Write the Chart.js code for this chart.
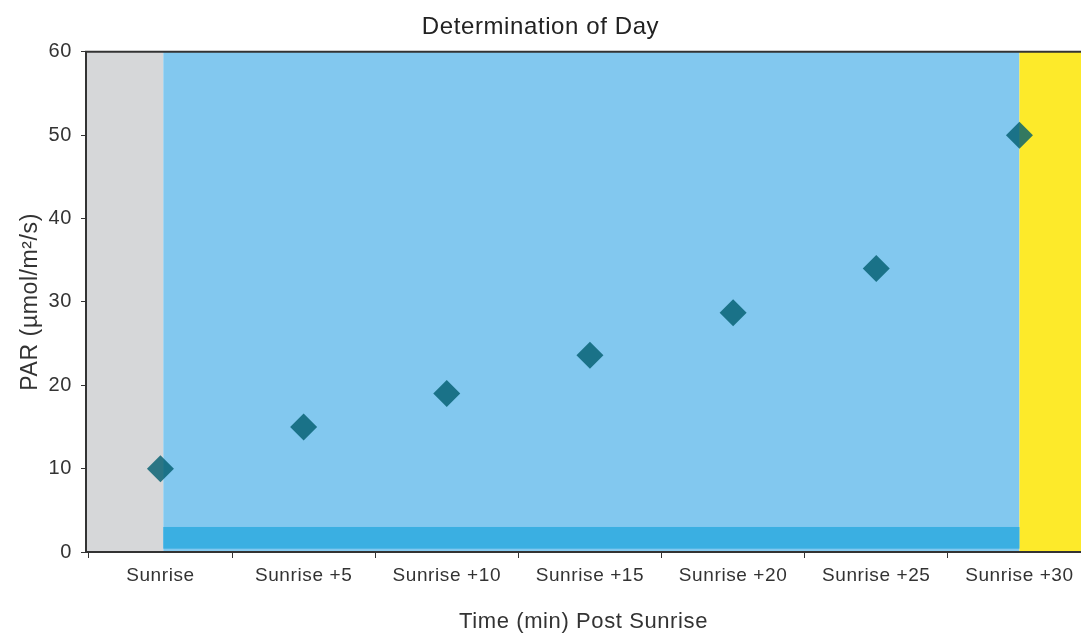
<!DOCTYPE html>
<html>
<head>
<meta charset="utf-8">
<script src="https://cdn.jsdelivr.net/npm/chart.js@4.4.1/dist/chart.umd.min.js"></script>
<style>
  html, body { margin: 0; background: #fff; }
  #wrap { width: 1081px; height: 636px; }
</style>
</head>
<body>
<div id="wrap"><canvas id="chart"></canvas></div>
<script>
/* Determination of Day: PAR readings after sunrise, drawn over
   night / twilight / day shading. */

const labels = ["Sunrise", "Sunrise +5", "Sunrise +10", "Sunrise +15", "Sunrise +20", "Sunrise +25", "Sunrise +30"];
const par = [10, 15, 19, 23.6, 28.7, 34, 50];
const yTicks = [0, 10, 20, 30, 40, 50, 60];
// shading edges in category units: night | twilight | day
const zoneEdges = [-0.52, 0.02, 6, 6.43];
// darker strip along the bottom of the twilight zone (PAR units)
const bandRange = [0.4, 3];

const ZONE_COLORS = ["#d6d7d9", "#82c8ef", "#fdea2a"];
const BAND = "#3aafe2";
const INK = "#333";
const FONT = "'Liberation Sans', Arial, sans-serif";
const SPACING = "0.6px";

Chart.defaults.font.family = FONT;
Chart.defaults.color = INK;

// the reference lettering runs a little wide
const spacing = {
  id: "spacing",
  beforeInit(c) { c.ctx.letterSpacing = SPACING; },
  beforeUpdate(c) { c.ctx.letterSpacing = SPACING; },
  beforeDraw(c) { c.ctx.letterSpacing = SPACING; },
};

const zones = {
  id: "zones",
  beforeDraw(chart) {
    const { ctx, chartArea: a, scales: { x, y } } = chart;
    ctx.save();
    ctx.beginPath();
    ctx.rect(a.left, a.top, a.right - a.left, a.bottom - a.top);
    ctx.clip();
    ZONE_COLORS.forEach((col, i) => {
      const x0 = x.getPixelForValue(zoneEdges[i]);
      const x1 = x.getPixelForValue(zoneEdges[i + 1]);
      ctx.fillStyle = col;
      ctx.fillRect(x0, a.top, x1 - x0, a.bottom - a.top);
    });
    const bx0 = x.getPixelForValue(zoneEdges[1]), bx1 = x.getPixelForValue(zoneEdges[2]);
    const by0 = y.getPixelForValue(bandRange[1]), by1 = y.getPixelForValue(bandRange[0]);
    ctx.fillStyle = BAND;
    ctx.fillRect(bx0, by0, bx1 - bx0, by1 - by0);
    ctx.restore();
  },
  afterDraw(chart) {
    const { ctx, chartArea: a } = chart;
    ctx.save();
    ctx.strokeStyle = INK;
    ctx.lineWidth = 2;
    ctx.beginPath();
    ctx.moveTo(a.left - 1, a.top);
    ctx.lineTo(a.right, a.top);
    ctx.stroke();
    ctx.restore();
  },
};

new Chart(document.getElementById("chart"), {
  type: "scatter",
  data: {
    datasets: [{
      data: labels.map((_, i) => ({ x: i, y: par[i] })),
      pointStyle: "rectRot",
      pointRadius: 13.5,
      pointBorderWidth: 0,
      backgroundColor: "rgba(0,92,110,0.8)",
      clip: false,
    }],
  },
  options: {
    responsive: true, maintainAspectRatio: false, animation: false, events: [],
    layout: { padding: 0, autoPadding: false },
    plugins: {
      legend: { display: false },
      tooltip: { enabled: false },
      title: {
        display: true, text: "Determination of Day", color: "#222",
        font: { size: 24, weight: "normal" }, padding: { top: 13, bottom: 10 },
      },
    },
    scales: {
      x: {
        type: "linear", min: zoneEdges[0], max: zoneEdges[3],
        afterBuildTicks: s => { s.ticks = labels.map((_, i) => ({ value: i })); },
        afterFit: s => { s.height = 84; s.paddingLeft = 0; s.paddingRight = 0; },
        ticks: { callback: v => labels[v], autoSkip: false, maxRotation: 0, font: { size: 19 }, padding: 6 },
        grid: { offset: true, drawOnChartArea: false, tickLength: 6, color: INK, lineWidth: 1 },
        border: { display: true, color: INK, width: 2 },
        title: { display: true, text: "Time (min) Post Sunrise", font: { size: 22 }, padding: 1 },
      },
      y: {
        min: 0, max: 60,
        afterBuildTicks: s => { s.ticks = yTicks.map(v => ({ value: v })); },
        afterFit: s => { s.width = 86; },
        ticks: { font: { size: 20 }, padding: 9 },
        grid: { drawOnChartArea: false, tickLength: 5, color: INK, lineWidth: 1 },
        border: { display: true, color: INK, width: 2 },
        title: { display: true, text: "PAR (µmol/m²/s)", font: { size: 23 }, padding: 17 },
      },
    },
  },
  plugins: [spacing, zones],
});
</script>
</body>
</html>
